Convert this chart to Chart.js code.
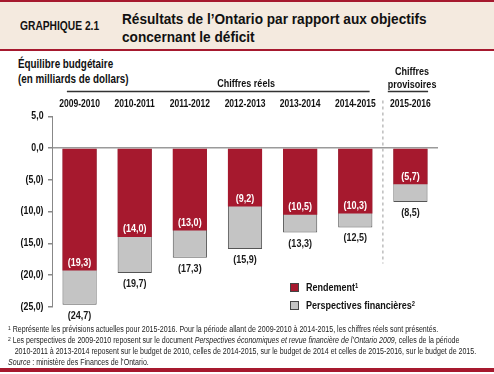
<!DOCTYPE html>
<html>
<head>
<meta charset="utf-8">
<script src="https://cdn.jsdelivr.net/npm/chart.js@4/dist/chart.umd.min.js"></script>
<style>
  html, body { margin:0; padding:0; background:#fff; }
  body { width:494px; height:374px; position:relative; overflow:hidden;
         font-family:"Liberation Sans",Arial,sans-serif; color:#1a1a1a; }
  .n { transform: scaleX(0.82); transform-origin: 0 0; white-space:nowrap; }
  #band { position:absolute; left:0; top:0; width:494px; height:47px; background:#F4EADF;
          border-top:2px solid #A6192E; border-bottom:2px solid #A6192E; }
  #gnum { position:absolute; left:20px; top:19px; font-weight:bold; font-size:12.5px; line-height:15px; color:#111; }
  #title { position:absolute; left:122px; top:10px; font-weight:bold; font-size:15.5px; line-height:18px; color:#111;
           transform: scaleX(0.88); }
  #ytitle { position:absolute; left:18px; top:57px; font-weight:bold; font-size:12px; line-height:15px; color:#111; }
  #chartbox { position:absolute; left:0; top:52px; width:494px; height:280px; }
  .leg { position:absolute; left:290px; font-weight:bold; font-size:11px; line-height:12px; color:#111; white-space:nowrap; }
  .leg span.sw { position:absolute; left:0; top:1px; width:7px; height:7px; border:1px solid #444; }
  .leg span.tx { position:absolute; left:16px; top:-1px; }
  sup { font-size:7px; vertical-align:top; position:relative; top:-1px; }
  #notes { position:absolute; left:8px; top:324px; font-size:8.5px; line-height:11px; color:#222; transform: scaleX(0.83); }
  #notes sup { font-size:6px; top:-1px; }
  #bottom { position:absolute; left:0; top:368px; width:494px; height:4px; background:#A6192E; }
</style>
</head>
<body>
<div id="band"></div>
<div id="gnum" class="n">GRAPHIQUE 2.1</div>
<div id="title" class="n">Résultats de l’Ontario par rapport aux objectifs<br>concernant le déficit</div>
<div id="ytitle" class="n">Équilibre budgétaire<br>(en milliards de dollars)</div>
<div id="chartbox"><canvas id="c" width="494" height="280"></canvas></div>
<div class="leg" style="top:282px"><span class="sw" style="background:#A6192E"></span><span class="tx n">Rendement<sup>1</sup></span></div>
<div class="leg" style="top:300px"><span class="sw" style="background:#C4C4C4"></span><span class="tx n">Perspectives financières<sup>2</sup></span></div>
<div id="notes" class="n">
<div><sup>1</sup> Représente les prévisions actuelles pour 2015-2016. Pour la période allant de 2009-2010 à 2014-2015, les chiffres réels sont présentés.</div>
<div><sup>2</sup> Les perspectives de 2009-2010 reposent sur le document <i>Perspectives économiques et revue financière de l’Ontario 2009</i>, celles de la période</div>
<div style="padding-left:8px">2010-2011 à 2013-2014 reposent sur le budget de 2010, celles de 2014-2015, sur le budget de 2014 et celles de 2015-2016, sur le budget de 2015.</div>
<div><i>Source</i> : ministère des Finances de l’Ontario.</div>
</div>
<div id="bottom"></div>
<script>
const categories = ['2009-2010','2010-2011','2011-2012','2012-2013','2013-2014','2014-2015','2015-2016'];
const rendement = [-19.3, -14.0, -13.0, -9.2, -10.5, -10.3, -5.7];
const perspectives = [-24.7, -19.7, -17.3, -15.9, -13.3, -12.5, -8.5];
const yTickValues = [5, 0, -5, -10, -15, -20, -25];
const groupReel = 'Chiffres réels';
const groupProv = ['Chiffres', 'provisoires'];

const FONT = '"Liberation Sans",Arial,sans-serif';
const SX = 0.82;
function fmt(v) {
  const s = Math.abs(v).toFixed(1).replace('.', ',');
  return v < 0 ? '(' + s + ')' : s;
}
function ntext(ctx, txt, x, y, size, align, color) {
  ctx.save();
  ctx.font = 'bold ' + size + 'px ' + FONT;
  ctx.fillStyle = color;
  ctx.textAlign = align;
  ctx.textBaseline = 'middle';
  ctx.translate(x, y);
  ctx.scale(SX, 1);
  ctx.fillText(txt, 0, 0);
  ctx.restore();
}

const labelPlugin = {
  id: 'barLabels',
  afterDatasetsDraw(chart) {
    const ctx = chart.ctx;
    chart.data.datasets.forEach((ds, i) => {
      const meta = chart.getDatasetMeta(i);
      meta.data.forEach((bar, j) => {
        const v = ds.data[j];
        if (i === 0) ntext(ctx, fmt(v), bar.x, bar.y - 7.5, 11, 'center', '#ffffff');
        else ntext(ctx, fmt(v), bar.x, bar.y + 11, 11, 'center', '#1a1a1a');
      });
    });
  }
};

const axisTextPlugin = {
  id: 'axisText',
  afterDraw(chart) {
    const ctx = chart.ctx;
    const xs = chart.scales.x, ys = chart.scales.y;
    ys.ticks.forEach(t => {
      ntext(ctx, fmt(t.value), ys.right - 8.5, ys.getPixelForValue(t.value), 10.7, 'right', '#111');
    });
    categories.forEach((c, i) => {
      ntext(ctx, c, xs.getPixelForTick(i), 52.5, 10.4, 'center', '#111');
    });
    ctx.save();
    const sx = xs.getPixelForValue(5.5);
    ctx.strokeStyle = '#BDBDBD';
    ctx.lineWidth = 1.5;
    ctx.setLineDash([3, 3]);
    ctx.beginPath();
    ctx.moveTo(sx, chart.chartArea.top - 16);
    ctx.lineTo(sx, ys.getPixelForValue(-18.2));
    ctx.stroke();
    ctx.setLineDash([]);
    ctx.strokeStyle = '#333';
    ctx.lineWidth = 1.5;
    const ly = 39.5;
    ctx.beginPath();
    ctx.moveTo(xs.getPixelForValue(-0.23), ly);
    ctx.lineTo(xs.getPixelForValue(5.26), ly);
    ctx.moveTo(xs.getPixelForValue(5.59), ly);
    ctx.lineTo(xs.getPixelForValue(6.32), ly);
    ctx.stroke();
    ctx.restore();
    ntext(ctx, groupReel, xs.getPixelForValue(3.02), 32, 11, 'center', '#111');
    const px = xs.getPixelForValue(6.03);
    ntext(ctx, groupProv[0], px, 19.5, 11, 'center', '#111');
    ntext(ctx, groupProv[1], px, 32.5, 11, 'center', '#111');
  }
};

new Chart(document.getElementById('c'), {
  type: 'bar',
  data: {
    labels: categories,
    datasets: [
      { label: 'Rendement', data: rendement, backgroundColor: '#A6192E', borderWidth: 0,
        grouped: false, barPercentage: 0.62, categoryPercentage: 1 },
      { label: 'Perspectives financières', data: perspectives, backgroundColor: '#C4C4C4',
        borderColor: '#555555', borderWidth: 1, grouped: false, barPercentage: 0.62, categoryPercentage: 1 }
    ]
  },
  options: {
    responsive: false,
    animation: false,
    events: [],
    layout: { padding: { left: 0, right: 56, top: 44.4, bottom: 25.3 } },
    plugins: { legend: { display: false }, tooltip: { enabled: false } },
    scales: {
      x: {
        position: 'top',
        grid: { display: false },
        border: { display: false },
        ticks: { display: false },
        afterFit(scale) { scale.height = 20; }
      },
      y: {
        min: -25, max: 5,
        afterBuildTicks(scale) { scale.ticks = yTickValues.map(v => ({ value: v })); },
        ticks: { display: false },
        grid: {
          color: ctx => (ctx.tick && ctx.tick.value === 0) ? '#9A9A9A' : 'rgba(0,0,0,0)',
          lineWidth: 1.5, tickColor: '#888', tickLength: 4
        },
        border: { display: true, color: '#888', width: 1 },
        afterFit(scale) { scale.width = 52; }
      }
    }
  },
  plugins: [labelPlugin, axisTextPlugin]
});
</script>
</body>
</html>
